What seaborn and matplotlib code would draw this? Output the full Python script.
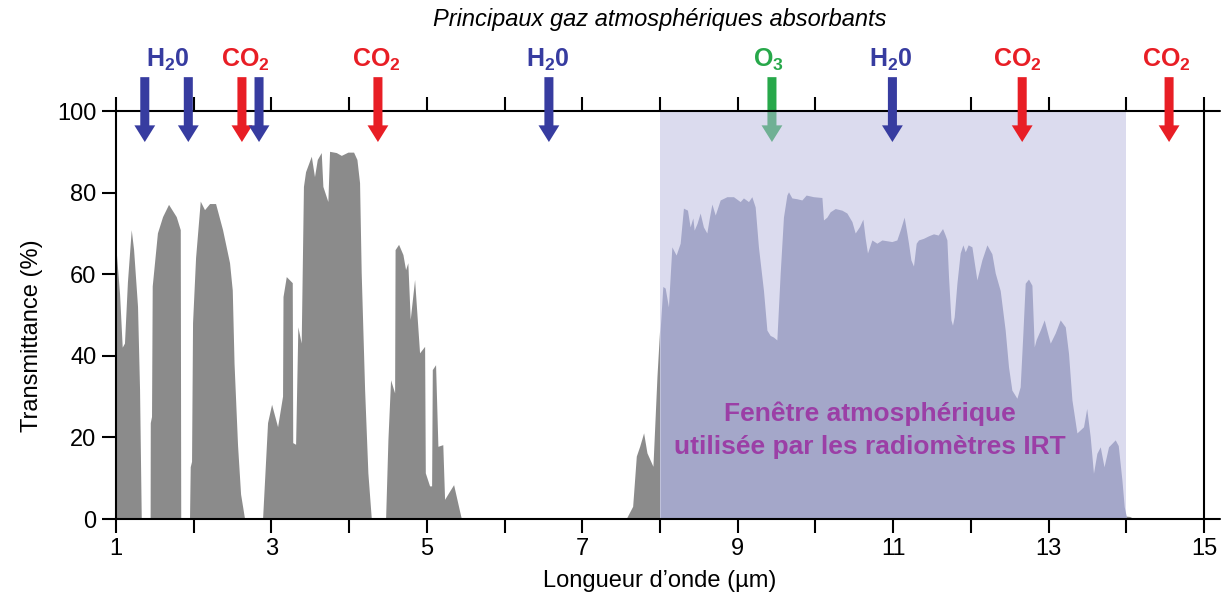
import numpy as np
import matplotlib
matplotlib.use("Agg")
import matplotlib.pyplot as plt
import seaborn as sns

sns.set_theme(style="ticks")
plt.rcParams['font.family'] = ['Liberation Sans', 'DejaVu Sans']
plt.rcParams['mathtext.fontset'] = 'custom'
plt.rcParams['mathtext.rm'] = 'Liberation Sans'
plt.rcParams['mathtext.bf'] = 'Liberation Sans:bold'
plt.rcParams['text.color'] = 'black'
plt.rcParams['axes.labelcolor'] = 'black'

# spectre de transmittance
longueur_onde = [
    1.000, 1.052, 1.086, 1.115, 1.153, 1.202, 1.232, 1.283, 1.309, 1.331,
    1.445, 1.447, 1.463, 1.472, 1.539, 1.605, 1.682, 1.781, 1.833, 1.839,
    1.952, 1.961, 1.978, 1.991, 2.030, 2.090, 2.145, 2.210, 2.287, 2.377,
    2.467, 2.502, 2.525, 2.570, 2.609, 2.660,
    2.892, 2.956, 3.008, 3.085, 3.149, 3.155, 3.197, 3.274, 3.280, 3.317,
    3.346, 3.389, 3.418, 3.445, 3.519, 3.560, 3.596, 3.647, 3.668, 3.732,
    3.754, 3.840, 3.905, 3.990, 4.063, 4.106, 4.140, 4.161, 4.205, 4.247, 4.291,
    4.475, 4.505, 4.539, 4.591, 4.597, 4.642, 4.698, 4.732, 4.761, 4.792,
    4.848, 4.912, 4.977, 4.986, 5.041, 5.067, 5.076, 5.118, 5.148, 5.211,
    5.234, 5.288, 5.350, 5.449,
    7.572, 7.654, 7.701, 7.744, 7.795, 7.838, 7.915, 7.967, 8.000,
    8.036, 8.066, 8.108, 8.152, 8.207, 8.259, 8.301, 8.353, 8.387, 8.422,
    8.439, 8.477, 8.516, 8.558, 8.602, 8.636, 8.667, 8.710, 8.774, 8.860,
    8.945, 9.031, 9.073, 9.138, 9.181, 9.224, 9.266, 9.331, 9.375, 9.417,
    9.459, 9.503, 9.546, 9.588, 9.632, 9.653, 9.696, 9.761, 9.825, 9.880,
    9.974, 10.083, 10.103, 10.147, 10.189, 10.254, 10.340, 10.404, 10.469, 10.511,
    10.567, 10.610, 10.640, 10.669, 10.726, 10.790, 10.855, 10.983, 11.047, 11.090,
    11.141, 11.176, 11.197, 11.228, 11.261, 11.296, 11.326, 11.390, 11.454, 11.519,
    11.579, 11.635, 11.669, 11.691, 11.712, 11.743, 11.763, 11.785, 11.820, 11.862,
    11.897, 11.927, 11.965, 12.013, 12.077, 12.141, 12.206, 12.270, 12.313, 12.377,
    12.441, 12.484, 12.527, 12.592, 12.634, 12.669, 12.699, 12.741, 12.785, 12.815,
    12.840, 12.892, 12.943, 12.986, 13.021, 13.085, 13.149, 13.214, 13.256, 13.300,
    13.364, 13.449, 13.490, 13.535, 13.577, 13.621, 13.664, 13.713, 13.771, 13.857,
    13.896, 13.943, 13.973, 14.000, 14.05, 14.10,
]
transmittance = [
    67.6, 55.0, 42.0, 43.0, 58.0, 70.8, 66.0, 52.0, 31.6, 0.0,
    0.0, 23.5, 25.0, 57.0, 70.0, 74.0, 77.0, 74.0, 70.8, 0.0,
    0.0, 12.7, 14.0, 48.0, 64.0, 77.8, 75.7, 77.2, 77.2, 70.8,
    62.7, 56.0, 38.0, 18.0, 6.0, 0.0,
    0.0, 23.5, 28.0, 22.5, 30.0, 54.4, 59.3, 57.8, 18.6, 18.2,
    47.0, 43.0, 81.4, 85.0, 88.8, 83.8, 88.0, 89.7, 81.4, 77.7,
    90.0, 89.7, 89.0, 89.8, 89.8, 88.0, 82.3, 60.3, 31.6, 11.2, 0.0,
    0.0, 19.4, 34.0, 30.8, 65.9, 67.2, 64.7, 61.0, 62.7, 48.8,
    58.6, 40.6, 42.2, 11.2, 8.0, 8.0, 36.5, 37.7, 17.7, 18.1,
    4.7, 6.4, 8.3, 0.0,
    0.0, 3.0, 15.3, 17.7, 21.0, 16.1, 12.8, 34.9, 46.0,
    57.0, 56.6, 52.0, 66.7, 64.7, 67.6, 76.2, 75.7, 71.6, 73.8,
    70.8, 72.5, 75.0, 71.6, 70.1, 74.0, 77.2, 74.5, 78.2, 79.0,
    79.0, 77.8, 78.7, 77.8, 79.0, 76.5, 66.7, 56.0, 46.3, 45.0,
    44.6, 43.9, 60.3, 74.0, 79.4, 80.2, 78.7, 78.5, 78.2, 79.4,
    79.0, 78.8, 73.3, 74.0, 75.3, 76.1, 75.7, 75.0, 72.9, 70.1,
    71.7, 73.5, 68.8, 65.2, 68.4, 67.6, 68.4, 68.0, 68.4, 70.8,
    74.0, 70.1, 67.6, 63.5, 62.0, 67.6, 68.4, 68.8, 69.4, 69.9,
    69.6, 71.2, 69.6, 68.4, 59.4, 48.8, 47.5, 49.6, 57.8, 65.2,
    67.2, 65.5, 67.2, 66.7, 58.6, 63.5, 67.2, 65.0, 60.3, 56.0,
    46.3, 37.3, 31.6, 29.6, 32.4, 45.6, 57.8, 58.8, 57.3, 42.2,
    44.0, 46.3, 48.8, 45.6, 43.1, 45.6, 48.8, 47.1, 40.6, 29.2,
    21.1, 22.6, 27.1, 20.2, 11.2, 16.1, 17.7, 12.8, 17.7, 19.4,
    18.0, 9.6, 3.0, 0.6, 0.5, 0.0,
]

# gaz absorbants : position des fleches et des etiquettes
gaz_fleches = [1.37, 1.93, 2.62, 2.84, 4.37, 6.57, 9.44, 10.99, 12.66, 14.55]
gaz_fleches_couleur = ["h2o", "h2o", "co2", "h2o", "co2", "h2o", "o3", "h2o", "co2", "co2"]
gaz_labels = [r"$\mathbf{H_20}$", r"$\mathbf{CO_2}$", r"$\mathbf{CO_2}$", r"$\mathbf{H_20}$",
              r"$\mathbf{O_3}$", r"$\mathbf{H_20}$", r"$\mathbf{CO_2}$", r"$\mathbf{CO_2}$"]
gaz_labels_x = [1.66, 2.67, 4.35, 6.55, 9.40, 10.97, 12.60, 14.51]
gaz_labels_couleur = ["h2o", "co2", "co2", "h2o", "o3", "h2o", "co2", "co2"]

fenetre = (8, 14)

couleurs = {"h2o": "#373ca0", "co2": "#e81e25", "o3": "#27a84a"}
gris = "#8b8b8b"
lavande = "#a4a7c9"

x = np.array(longueur_onde)
y = np.array(transmittance)

fig = plt.figure(figsize=(12.24, 6.04), dpi=100)
ax = fig.add_axes([0.0948, 0.1407, 0.8889, 0.6755])

# fenetre atmospherique (semi transparente pour teinter la fleche O3)
ax.axvspan(fenetre[0], fenetre[1], ymin=0, ymax=1, color="#b9b9de", alpha=0.5, lw=0, zorder=1)

dehors = (x <= fenetre[0]) | (x >= fenetre[1])
dedans = (x >= fenetre[0]) & (x <= fenetre[1])
ax.fill_between(x, 0, y, where=dehors, color=gris, lw=0, zorder=2)
ax.fill_between(x, 0, y, where=dedans, color=lavande, lw=0, zorder=2)

ax.set_xlim(1, 15)
ax.set_ylim(0, 100)
ax.set_xticks(range(1, 16, 2))
ax.set_xticks(range(2, 15, 2), minor=True)
ax.set_yticks(range(0, 101, 20))
ax.tick_params(axis='both', which='both', direction='out', length=10, width=1.5,
               labelsize=17, pad=4, colors='black')
ax.tick_params(axis='x', which='both', top=True, labeltop=False)
for s in ax.spines.values():
    s.set_linewidth(1.5)
    s.set_color('black')
ax.plot([15, 15.2], [0, 0], color='black', lw=1.5, clip_on=False, zorder=3)
ax.plot([15, 15.2], [100, 100], color='black', lw=1.5, clip_on=False, zorder=3)

ax.set_xlabel("Longueur d\u2019onde (\u00b5m)", fontsize=17, labelpad=7)
ax.set_ylabel("Transmittance (%)", fontsize=17)
ax.yaxis.set_label_coords(-0.067, 0.45)

# fleches
for xf, g in zip(gaz_fleches, gaz_fleches_couleur):
    z = 0.5 if g == "o3" else 5
    ax.annotate("", xy=(xf, 92.4), xytext=(xf, 108.3), xycoords='data',
                arrowprops=dict(width=6.5, headwidth=15, headlength=12, shrink=0,
                                color=couleurs[g], lw=0),
                annotation_clip=False, zorder=z)

for xl, lab, g in zip(gaz_labels_x, gaz_labels, gaz_labels_couleur):
    ax.text(xl, 110.8, lab, color=couleurs[g], fontsize=18, ha='center', va='baseline',
            clip_on=False)

ax.text(10.7, 21.8, "Fen\u00eatre atmosph\u00e9rique\nutilis\u00e9e par les radiom\u00e8tres IRT",
        color="#9b3fa6", fontsize=19, fontweight='bold', ha='center', va='center',
        linespacing=1.5, zorder=6)

fig.text(0.539, 0.967, "Principaux gaz atmosph\u00e9riques absorbants", fontsize=17,
         style='italic', ha='center', va='center')

fig.savefig("out.png", dpi=100)
